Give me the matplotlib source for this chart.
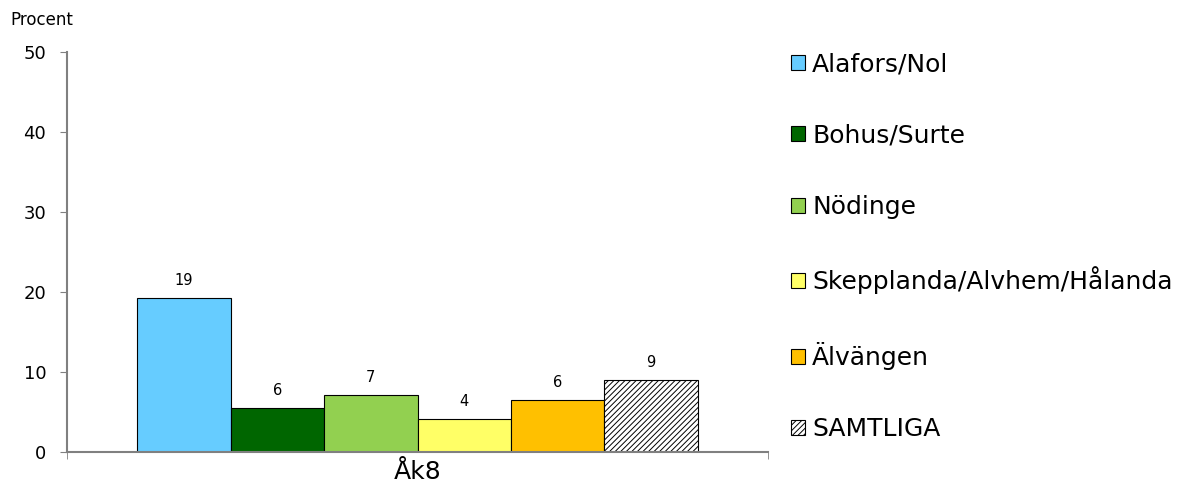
import matplotlib.pyplot as plt
import numpy as np

plt.rcParams["font.family"] = ["DejaVu Sans"]
plt.rcParams["hatch.linewidth"] = 0.7

areas = ["Alafors/Nol", "Bohus/Surte", "Nödinge",
         "Skepplanda/Alvhem/Hålanda", "Älvängen", "SAMTLIGA"]
values = [19.2, 5.5, 7.1, 4.1, 6.5, 9.0]
labels = ["19", "6", "7", "4", "6", "9"]
colors = ["#66ccff", "#006600", "#92d050", "#ffff66", "#ffc000", "white"]
hatches = [None, None, None, None, None, "//////"]
group = "Åk8"

fig = plt.figure(figsize=(11.9, 4.96), dpi=100)
ax = fig.add_axes([67 / 1190, 1 - 452 / 496, 701 / 1190, 400 / 496])

n = len(values)
w = 0.8 / n
for i, (v, c, h, a) in enumerate(zip(values, colors, hatches, areas)):
    x = -0.4 + w * (i + 0.5)
    ax.bar(x, v, width=w, color=c, edgecolor="black", linewidth=0.8,
           hatch=h, label=a)
    ax.text(x, v + 1.3, labels[i], ha="center", va="bottom", fontsize=10.5)

ax.set_xlim(-0.5, 0.5)
ax.set_ylim(0, 50)
ax.set_yticks(range(0, 51, 10))
ax.set_xticks([-0.5, 0.5], minor=True)
ax.set_xticks([0])
ax.set_xticklabels([group], fontsize=18)
ax.tick_params(axis="x", which="major", length=0, pad=6)
ax.tick_params(axis="x", which="minor", length=5, color="#808080")
ax.tick_params(axis="y", length=5, color="#808080", labelsize=13, pad=10)
for s in ["top", "right"]:
    ax.spines[s].set_visible(False)
for s in ["left", "bottom"]:
    ax.spines[s].set_color("#808080")
    ax.spines[s].set_linewidth(1.5)

fig.text(10 / 1190, 1 - 20 / 496, "Procent", fontsize=12, va="center")

ax.legend(loc="upper left", bbox_to_anchor=(781 / 1190, 1 - 42 / 496),
          bbox_transform=fig.transFigure, frameon=False, fontsize=18,
          labelspacing=1.9, handlelength=0.55, handleheight=0.55,
          handletextpad=0.3, borderaxespad=0)

fig.savefig("out.png", dpi=100)
